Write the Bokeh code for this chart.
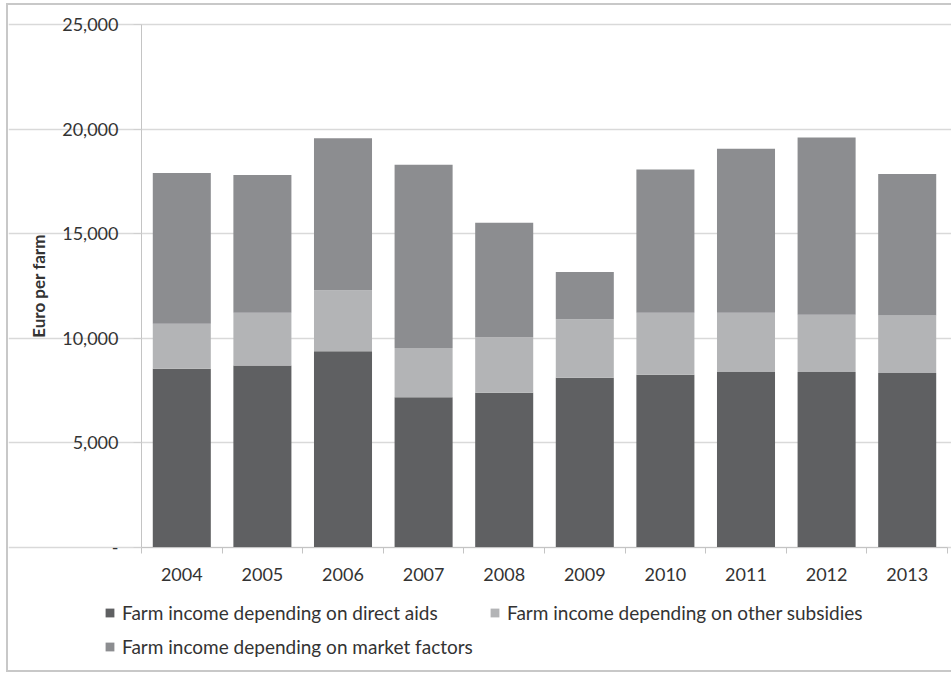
from bokeh.plotting import figure
from bokeh.models import ColumnDataSource, Range1d, FixedTicker, Legend, LegendItem
from bokeh.embed import file_html
from bokeh.resources import INLINE

# ---- data ----
years = ["2004", "2005", "2006", "2007", "2008", "2009", "2010", "2011", "2012", "2013"]
direct_aids = [8530, 8690, 9370, 7170, 7380, 8100, 8240, 8370, 8370, 8320]
other_subsidies = [2150, 2520, 2910, 2350, 2660, 2800, 2970, 2840, 2740, 2760]
market_factors = [7210, 6590, 7280, 8770, 5480, 2260, 6850, 7850, 8480, 6770]
series_names = ["Farm income depending on direct aids",
                "Farm income depending on other subsidies",
                "Farm income depending on market factors"]
y_ticks = [0, 5000, 10000, 15000, 20000, 25000]
y_tick_labels = ["-", "5,000", "10,000", "15,000", "20,000", "25,000"]
y_title = "Euro per farm"

colors = ["#5f6062", "#b3b4b6", "#8c8d90"]
FONT = "Lato"
TXT = "#333333"

# ---- layout geometry (pixels inside the 943x665 canvas) ----
W, H = 943, 665
PLOT_L, PLOT_R, PLOT_T, PLOT_B = 133, 939, 19, 541.5
Y_MAX = 25000
n = len(years)
px_per_cat = (PLOT_R - PLOT_L) / n
px_per_unit = (PLOT_B - PLOT_T) / Y_MAX
x0 = -0.5 - PLOT_L / px_per_cat
x1 = n - 0.5 + (W - PLOT_R) / px_per_cat
y1 = Y_MAX + PLOT_T / px_per_unit
y0 = -(H - PLOT_B) / px_per_unit

idx = list(range(n))
src = ColumnDataSource(dict(x=idx, direct=direct_aids, other=other_subsidies,
                            market=market_factors))

p = figure(width=W, height=H, output_backend="svg", toolbar_location=None,
           x_range=Range1d(x0, x1), y_range=Range1d(y0, y1), min_border=0)
p.margin = (5, 0, 0, 8)
p.styles = {"outline": "2px solid #c8c8c8"}
p.outline_line_color = None

rs = p.vbar_stack(["direct", "other", "market"], x="x", width=0.72, color=colors,
                  line_color=None, source=src)

# x axis: labels at centres, ticks at category boundaries, drawn at y = 0
p.xaxis.fixed_location = 0
p.xaxis.bounds = (-0.5, n - 0.5)
p.xaxis.ticker = FixedTicker(ticks=idx, minor_ticks=[i - 0.5 for i in range(n + 1)])
p.xaxis.major_label_overrides = {i: y for i, y in enumerate(years)}
p.xaxis.major_tick_out = 0
p.xaxis.major_tick_in = 0
p.xaxis.minor_tick_out = 6
p.xaxis.minor_tick_in = 0
p.xaxis.minor_tick_line_color = "#c4c4c4"
p.xaxis.axis_line_color = "#c4c4c4"
p.xaxis.major_label_standoff = 15
p.xaxis.major_label_text_font = FONT
p.xaxis.major_label_text_font_size = "18px"
p.xaxis.major_label_text_color = TXT

# y axis drawn at the left edge of the first category
p.yaxis.fixed_location = -0.5
p.yaxis.bounds = (0, Y_MAX)
p.yaxis.ticker = FixedTicker(ticks=y_ticks)
p.yaxis.major_label_overrides = {t: l for t, l in zip(y_ticks, y_tick_labels)}
p.yaxis.minor_tick_line_color = None
p.yaxis.major_tick_out = 8
p.yaxis.major_tick_in = 0
p.yaxis.major_tick_line_color = "#d0d0d0"
p.yaxis.axis_line_color = "#c4c4c4"
p.yaxis.major_label_standoff = 15
p.yaxis.major_label_text_font = FONT
p.yaxis.major_label_text_font_size = "18px"
p.yaxis.major_label_text_color = TXT
p.yaxis.axis_label = y_title
p.yaxis.axis_label_text_font = FONT
p.yaxis.axis_label_text_font_style = "bold"
p.yaxis.axis_label_text_font_size = "17px"
p.yaxis.axis_label_text_color = TXT
p.yaxis.axis_label_standoff = 10

p.xgrid.grid_line_color = None
p.ygrid.grid_line_color = "#d9d9d9"
p.ygrid.grid_line_width = 1.5
p.ygrid.bounds = (-0.5, n - 0.5)

legend = Legend(items=[LegendItem(label=s, renderers=[r]) for s, r in zip(series_names, rs)],
                location=(96, 12), orientation="horizontal", nrows=2,
                padding=0, margin=0, spacing=11, label_standoff=7,
                glyph_width=11, glyph_height=11, label_height=20, label_width=356,
                background_fill_alpha=0, border_line_color=None,
                label_text_font=FONT, label_text_font_size="19px",
                label_text_color=TXT)
p.add_layout(legend)

open("out.html", "w").write(file_html(p, INLINE))
